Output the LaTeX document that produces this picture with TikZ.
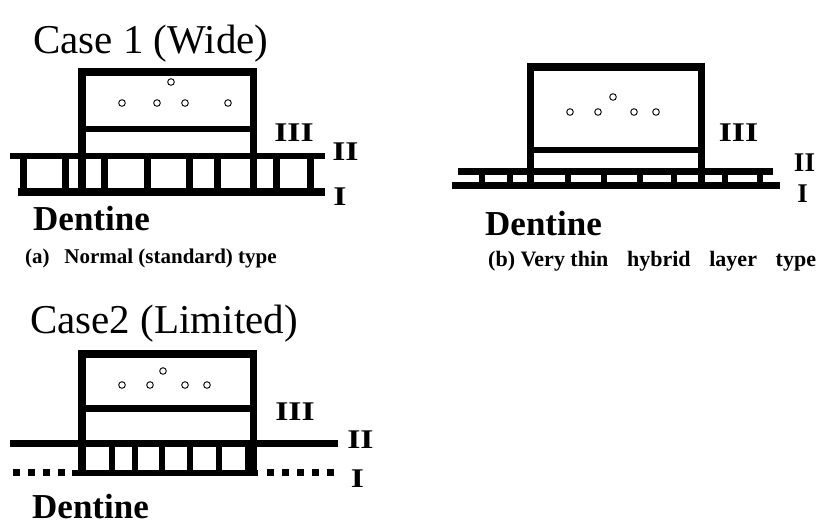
\documentclass[tikz,border=0pt]{standalone}
\usepackage{fontspec}
\setmainfont{Liberation Serif}
\newcommand{\widenum}[1]{\scalebox{1.25}[1]{#1}}
\tikzset{
    wall/.style={line width=7.5pt, line join=miter},
    band/.style={line width=6.5pt},
    rung/.style={line width=7pt},
    pore/.style={line width=0.9pt},
    numeral/.style={font=\bfseries\fontsize{27}{27}\selectfont, inner sep=0pt},
    casetitle/.style={font=\fontsize{41}{41}\selectfont, anchor=base west, inner sep=0pt},
    dentine/.style={font=\bfseries\fontsize{35}{35}\selectfont, anchor=base west, inner sep=0pt},
    caption/.style={font=\bfseries\fontsize{21}{21}\selectfont, anchor=base west, inner sep=0pt}
}

\begin{document}
\begin{tikzpicture}[x=1pt,y=-1pt]
    \useasboundingbox (0,0) rectangle (820,525);

    % (a) normal type, wide
    \begin{scope}
        \draw (33,53) node[casetitle](ta){Case 1 (Wide)};
        \draw[band] (10,156) -- (325,156);
        \draw[band, line width=7.5pt] (18,192) -- (325,192);
        \foreach \x in {23,65,104,147,189,217,276,310}
            \draw[rung] (\x,156) -- (\x,192);
        \draw[wall] (82,192) -- (82,72) -- (253.5,72) -- (253.5,192);
        \draw[band, line width=6pt] (82,129) -- (253.5,129);
        \foreach \x/\y in {171/82,122/103,157/103,185/103,228/103}
            \draw[pore] (\x,\y) circle (3.3);

        \draw (294,133) node[numeral](a3){\widenum{III}};
        \draw (345.5,151.5) node[numeral](a2){\widenum{II}};
        \draw (340,197) node[numeral](a1){\widenum{I}};
        \draw (33,230) node[dentine](da){Dentine};
        \draw (25,263) node[caption](ca){(a)\hspace{0.7em}Normal (standard) type};
    \end{scope}

    % (b) very thin hybrid layer
    \begin{scope}
        \draw[band] (458,171.5) -- (773,171.5);
        \draw[band, line width=7.5pt] (452,185.5) -- (780,185.5);
        \foreach \x in {482,510,568,604,640,674,725,760}
            \draw[rung, line width=6pt] (\x,171.5) -- (\x,185.5);
        \draw[wall] (530.5,185.5) -- (530.5,67) -- (701.5,67) -- (701.5,185.5);
        \draw[band] (530.5,150) -- (701.5,150);
        \foreach \x/\y in {613/97,570/112,598/112,634/112,656/112}
            \draw[pore] (\x,\y) circle (3.3);

        \draw (738.5,132.5) node[numeral](b3){\widenum{III}};
        \draw (804.5,163) node[numeral](b2){II};
        \draw (802.5,194) node[numeral](b1){I};
        \draw (485,235) node[dentine](db){Dentine};
        \draw (488,266) node[caption, font=\bfseries\fontsize{22}{22}\selectfont](cb){(b) Very thin\hspace{0.6em} hybrid\hspace{0.6em} layer\hspace{0.6em} type};
    \end{scope}

    % case 2, limited
    \begin{scope}
        \draw (30,333) node[casetitle](tc){Case2 (Limited)};
        \draw[band] (10,443.5) -- (338,443.5);
        \draw[band] (72,473) -- (258,473);
        \draw[line width=7pt, dash pattern=on 7pt off 8pt] (13,472.5) -- (65,472.5);
        \draw[line width=7pt, dash pattern=on 7pt off 8pt] (267,472.5) -- (334,472.5);
        \foreach \x in {112,135,162,190,219,248}
            \draw[rung, line width=6pt] (\x,443.5) -- (\x,473);
        \draw[wall] (82,473) -- (82,354) -- (253.5,354) -- (253.5,473);
        \draw[band] (82,408.3) -- (253.5,408.3);
        \foreach \x/\y in {163/371,122/385,150/385,185/385,207/385}
            \draw[pore] (\x,\y) circle (3.3);

        \draw (295,411.5) node[numeral](c3){\widenum{III}};
        \draw (360.5,439.5) node[numeral](c2){\widenum{II}};
        \draw (357.5,479) node[numeral](c1){\widenum{I}};
        \draw (32,518) node[dentine](dc){Dentine};
    \end{scope}
\end{tikzpicture}
\end{document}
